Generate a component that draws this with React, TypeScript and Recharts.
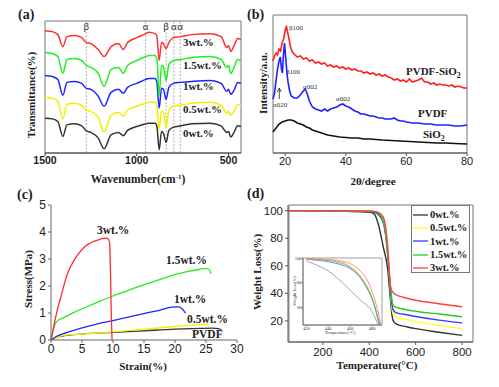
import React from 'react';
import { LineChart, Line, XAxis, YAxis, ReferenceLine, ReferenceArea } from 'recharts';

/* ─── Page + fonts ─────────────────────────────────────────────────────── */

const W = 499;
const H = 387;
const SERIF = '"Liberation Serif", "DejaVu Serif", serif';
const SANS = '"Liberation Sans", Arial, sans-serif';

/* ─── (a) FTIR ─────────────────────────────────────────────────────────── */

const ftirWave = [1500, 1460, 1430, 1403, 1380, 1340, 1300, 1275, 1250, 1210, 1178, 1140, 1100, 1073, 1050, 1000, 950, 935, 900, 890, 878, 865, 855, 840, 825, 800, 760, 700, 600, 540, 510, 500, 488, 470, 450, 432];
const ftir0 = [35, 34.3, 31.7, 16.7, 28.3, 29.3, 27.3, 22.3, 20.7, 15, 4.3, 18.3, 20.7, 17.3, 22.7, 26.7, 29.3, 30, 30, 26.7, 3.3, 21.7, 20, 10.7, 22.7, 26, 27.3, 29.3, 30, 27.3, 20.7, 21.7, 16, 20.7, 27.3, 26.7];
const ftir05 = [56, 55, 52, 34, 49, 50, 48, 43, 42, 36, 21, 38, 41, 37, 43, 47, 50, 51, 51, 47, 24, 42, 41, 26, 43, 47, 48, 50, 51, 48, 40, 42, 38, 42, 49, 48];
const ftir1 = [78, 77, 74, 58, 71, 72, 70, 65, 64, 57, 47, 61, 64, 60, 66, 70, 74, 75, 75, 71, 45, 65, 64, 54, 66, 70, 71, 72, 73, 70, 62, 64, 59, 63, 71, 70];
const ftir15 = [101, 100, 97, 80, 94, 95, 93, 88, 86, 80, 67, 84, 86, 80, 88, 93, 97, 98, 98, 94, 58, 88, 87, 73, 89, 93, 94, 96, 97, 94, 86, 88, 80, 86, 94, 93];
const ftir3 = [123, 122, 119, 107, 117, 118, 116, 111, 110, 104, 97, 107, 110, 104, 111, 116, 120, 121.5, 120, 117, 93, 111, 110, 105, 111, 116, 117, 119, 120, 117, 106, 108, 102, 108, 115, 114];
const ftirBands = [1275, 952, 840, 798, 763];
const ftirBandNames = ['β', 'α', 'β', 'α', 'α'];

const ftirRows = ftirWave.map((w, i) => ({
  w,
  s0: ftir0[i],
  s05: ftir05[i],
  s1: ftir1[i],
  s15: ftir15[i],
  s3: ftir3[i],
}));

/* ─── (b) XRD ──────────────────────────────────────────────────────────── */

const xrdCompX = [16, 16.5, 17, 17.5, 18, 18.5, 19, 19.5, 20, 20.4, 20.8, 21.3, 21.8, 22.4, 23, 24, 25, 26, 27, 28, 29, 30, 31, 32, 33, 34, 35, 36, 37, 38, 39, 40, 41, 42, 43, 44, 45, 46, 47, 48, 49, 50, 51, 52, 53, 54, 55, 56, 57, 58, 59, 60, 61, 62, 63, 64, 65, 66, 67, 68, 69, 70, 71, 72, 73, 74, 75, 76, 77, 78, 79, 80];
const xrdComp = [92, 97, 100, 98, 104, 102, 110, 114, 122, 127, 121, 114, 106, 101, 99, 96, 97, 94, 95, 92, 93, 90, 91, 89, 90, 87, 88, 86, 87, 85, 86, 84, 85, 83, 84, 82, 82, 80, 81, 79, 80, 78, 79, 77, 78, 76, 75, 73, 74, 72, 73, 71, 74, 71, 72, 73, 75, 71, 71, 69, 70, 68, 69, 68, 68, 67, 68, 66, 67, 66, 65, 65];
const xrdPvdfX = [16, 16.5, 17, 17.5, 18, 18.4, 18.8, 19.1, 19.4, 19.8, 20.2, 20.6, 21, 21.5, 22, 23, 24, 25, 26, 26.6, 27.2, 28, 29, 30, 31, 32, 33, 34, 35, 36, 37, 38, 39, 40, 41, 42, 43, 44, 45, 46, 47, 48, 49, 50, 51, 52, 53, 54, 55, 56, 57, 58, 59, 60, 62, 64, 66, 68, 70, 72, 74, 76, 78, 80];
const xrdPvdf = [54, 60, 72, 84, 92, 96, 84, 80, 96, 110, 95, 80, 70, 62, 57, 55, 55, 58, 62, 64, 60, 52, 46, 44, 43, 42, 44, 42, 44, 45, 46, 48, 49, 47, 46, 44, 42, 41, 39, 39, 38, 37, 37, 36, 35, 35, 34, 34, 34, 35, 33, 32, 32, 31, 30, 30, 29, 29, 28, 28, 28, 27, 27, 28];
const xrdSiO2X = [16, 17, 18, 19, 20, 21, 22, 23, 24, 25, 26, 27, 28, 29, 30, 31, 32, 33, 34, 36, 38, 40, 42, 44, 46, 48, 50, 52, 55, 58, 61, 64, 67, 70, 73, 76, 80];
const xrdSiO2 = [21, 25, 29, 31, 32, 33, 33, 32, 30, 29, 28, 26, 25, 23, 22, 21, 20, 19, 18, 17, 16, 15.5, 15, 15, 14, 14, 13.5, 13, 12.5, 12, 11.5, 11, 10.5, 10, 10, 9.5, 9];

/* ─── (c) tensile ──────────────────────────────────────────────────────── */

const ssPvdfX = [0, 1, 2, 5, 10, 15, 20, 24, 26, 27, 27.5];
const ssPvdf = [0, 0.1, 0.15, 0.22, 0.28, 0.34, 0.4, 0.43, 0.44, 0.42, 0.38];
const ss05X = [0, 1, 2, 5, 10, 15, 20, 24, 25, 25.5];
const ss05 = [0, 0.1, 0.17, 0.22, 0.3, 0.4, 0.5, 0.57, 0.58, 0.5];
const ss1X = [0, 1, 2.5, 5, 7.5, 10, 12.5, 15, 17.5, 19.5, 20.5, 21.2, 21.7];
const ss1 = [0, 0.15, 0.27, 0.45, 0.6, 0.72, 0.85, 0.98, 1.1, 1.22, 1.23, 1.15, 0.99];
const ss15X = [0, 0.3, 0.6, 1, 2, 4, 6, 8, 10, 12, 14, 16, 18, 20, 22, 24, 25, 25.5, 25.8];
const ss15 = [0, 0.3, 0.55, 0.7, 0.82, 1.05, 1.25, 1.45, 1.63, 1.8, 1.97, 2.12, 2.27, 2.42, 2.53, 2.62, 2.65, 2.62, 2.45];
const ss3X = [0, 0.3, 0.65, 1, 1.45, 2, 2.5, 3, 3.6, 4.3, 5.2, 6, 6.8, 7.8, 8.5, 8.9, 9.2, 9.45, 9.6, 9.7, 9.85];
const ss3 = [0, 0.35, 0.74, 1.1, 1.48, 1.95, 2.35, 2.65, 2.9, 3.15, 3.4, 3.55, 3.64, 3.72, 3.76, 3.77, 3.75, 3.6, 2.5, 1.2, 0];

/* ─── (d) TGA ──────────────────────────────────────────────────────────── */

const tga0T = [50, 200, 300, 400, 420, 440, 460, 480, 490, 498, 505, 520, 560, 600, 700, 800];
const tga0 = [100, 99.8, 99.5, 99, 97.8, 89.6, 74, 56.8, 38, 24, 19.5, 17.5, 15.8, 14.4, 11.8, 9.5];
const tgaT = [50, 200, 300, 400, 420, 440, 460, 470, 480, 490, 497, 503, 515, 550, 600, 700, 800];
const tga05 = [100, 99.9, 99.8, 99.7, 99.5, 98.6, 93.5, 85, 68, 45, 30, 25, 23, 21.5, 19.5, 16.8, 14.4];
const tga1 = [100, 99.9, 99.7, 99.4, 99, 97, 91.5, 83, 67, 45, 33, 28, 26, 24.8, 23.2, 20.6, 18.6];
const tga15 = [100, 99.9, 99.8, 99.6, 99.3, 98, 92.5, 84, 67.5, 47, 36, 31.5, 30, 28.5, 27, 25, 23];
const tga3 = [100, 99.9, 99.8, 99.7, 99.5, 98.8, 95.5, 89, 73, 47, 42, 40.5, 39, 37, 35, 32.5, 30.2];

const inset0T = [420, 430, 440, 450, 460, 470, 480, 485.5];
const inset0 = [97.8, 94, 89.6, 82.5, 74, 65.5, 56.8, 46];
const inset05T = [420, 430, 440, 450, 460, 470, 480, 484, 486.5];
const inset05 = [99.5, 99.2, 98.6, 97.2, 93.5, 85, 68, 56, 46];
const inset1T = [420, 430, 440, 450, 460, 470, 475, 480, 484, 487];
const inset1 = [99, 98.2, 97, 95, 91.5, 83, 76, 67, 56, 46];
const inset15T = [420, 430, 440, 450, 460, 470, 475, 480, 484, 486.5];
const inset15 = [99.3, 98.8, 98, 96.3, 92.5, 84, 77, 67.5, 55, 46];
const inset3T = [420, 430, 440, 450, 460, 470, 475, 480, 485, 488];
const inset3 = [99.5, 99.3, 98.8, 97.8, 95.5, 89, 83, 73, 58, 46];

const tgaNames = ['0wt.%', '0.5wt.%', '1wt.%', '1.5wt.%', '3wt.%'];
const tgaColors = ['#333333', '#ffff22', '#3838ff', '#22cc22', '#ff4040'];

/* ─── helpers ──────────────────────────────────────────────────────────── */

const zip = (xs: number[], ys: number[]) => xs.map((x, i) => ({ x, y: ys[i] }));

const tickSans = (size: number, bold = false) => ({
  fontSize: size,
  fill: '#222',
  fontFamily: SANS,
  fontWeight: bold ? 'bold' : 'normal',
});

const titleStyle = {
  fontFamily: SERIF,
  fontWeight: 'bold' as const,
  fontSize: 11,
  fill: '#222',
};

const letterStyle = { ...titleStyle, fontSize: 14 };

const layer: React.CSSProperties = { position: 'absolute', left: 0, top: 0 };

/* ─── Panel (a) ────────────────────────────────────────────────────────── */

function PanelA() {
  const colors = ['#333333', '#f2f200', '#2424ff', '#22ee22', '#ff3030'];
  const keys = ['s0', 's05', 's1', 's15', 's3'];
  return (
    <div style={layer}>
      <LineChart width={W} height={H} data={ftirRows} margin={{ top: 21, left: 45, right: 258, bottom: 220 }}>
        <XAxis
          type="number"
          dataKey="w"
          domain={[432, 1500]}
          reversed
          ticks={[1500, 1000, 500]}
          height={14}
          tickSize={3}
          tickMargin={1}
          stroke="#444"
          tick={tickSans(10.5, true)}
        />
        <YAxis hide type="number" domain={[0, 132.7]} />
        <ReferenceArea x1={432} x2={1500} y1={0} y2={132.7} fill="none" stroke="#777" />
        {ftirBands.map((b, i) => (
          <ReferenceLine
            key={b}
            x={b}
            stroke="#9a9a9a"
            strokeWidth={0.8}
            strokeDasharray="2 1.5"
            label={{ value: ftirBandNames[i], position: 'insideTop', offset: 1, fontSize: 11, fill: '#333', fontFamily: SERIF }}
          />
        ))}
        {keys.map((k, i) => (
          <Line key={k} dataKey={k} type="monotone" stroke={colors[i]} strokeWidth={1.5} dot={false} isAnimationActive={false} />
        ))}
        <text x={18} y={19} style={letterStyle}>(a)</text>
        <text x={183} y={46} style={titleStyle}>3wt.%</text>
        <text x={183} y={69} style={titleStyle}>1.5wt.%</text>
        <text x={183} y={90} style={titleStyle}>1wt.%</text>
        <text x={183} y={113} style={titleStyle}>0.5wt.%</text>
        <text x={183} y={137} style={titleStyle}>0wt.%</text>
        <text x={138} y={183} textAnchor="middle" style={{ ...titleStyle, fontSize: 11.5 }}>
          Wavenumber(cm<tspan dy={-4} fontSize={7}>-1</tspan><tspan dy={4}>)</tspan>
        </text>
        <text x={0} y={0} transform="translate(35 95) rotate(-90)" textAnchor="middle" style={titleStyle}>
          Transmittance(%)
        </text>
      </LineChart>
    </div>
  );
}

/* ─── Panel (b) ────────────────────────────────────────────────────────── */

function PanelB() {
  const small = { fontFamily: SERIF, fontSize: 7, fill: '#333' };
  return (
    <div style={layer}>
      <LineChart width={W} height={H} margin={{ top: 15, left: 273, right: 32, bottom: 220 }}>
        <XAxis
          type="number"
          dataKey="x"
          domain={[16, 80]}
          ticks={[20, 40, 60, 80]}
          height={14}
          tickSize={3}
          tickMargin={1}
          stroke="#555"
          tick={tickSans(11)}
        />
        <YAxis hide type="number" domain={[0, 138]} />
        <ReferenceArea x1={16} x2={80} y1={0} y2={138} fill="none" stroke="#777" />
        <Line data={zip(xrdSiO2X, xrdSiO2)} dataKey="y" type="linear" stroke="#111" strokeWidth={1.6} dot={false} isAnimationActive={false} />
        <Line data={zip(xrdPvdfX, xrdPvdf)} dataKey="y" type="linear" stroke="#2020ff" strokeWidth={1.6} dot={false} isAnimationActive={false} />
        <Line data={zip(xrdCompX, xrdComp)} dataKey="y" type="linear" stroke="#ff2020" strokeWidth={1.6} dot={false} isAnimationActive={false} />
        <text x={247} y={19} style={letterStyle}>(b)</text>
        <text x={289} y={30} style={small}>β100</text>
        <text x={286} y={74} style={small}>β100</text>
        <text x={303} y={89} style={small}>α002</text>
        <text x={336} y={101} style={small}>α002</text>
        <text x={273} y={107} style={small}>α020</text>
        <path d="M279.3 99 L279.3 89 M277.3 92 L279.3 88 L281.3 92" stroke="#222" strokeWidth={0.8} fill="none" />
        <text x={406} y={75} style={titleStyle}>
          PVDF-SiO<tspan dy={3} fontSize={8}>2</tspan>
        </text>
        <text x={418} y={117} style={titleStyle}>PVDF</text>
        <text x={423} y={138} style={titleStyle}>
          SiO<tspan dy={3} fontSize={8}>2</tspan>
        </text>
        <text x={373} y={185} textAnchor="middle" style={titleStyle}>2θ/degree</text>
        <text x={0} y={0} transform="translate(267 83) rotate(-90)" textAnchor="middle" style={titleStyle}>
          Intensity/a.u.
        </text>
      </LineChart>
    </div>
  );
}

/* ─── Panel (c) ────────────────────────────────────────────────────────── */

function PanelC() {
  return (
    <div style={layer}>
      <LineChart width={W} height={H} margin={{ top: 205, left: 31, right: 262, bottom: 33 }}>
        <XAxis
          type="number"
          dataKey="x"
          domain={[0, 30]}
          ticks={[0, 5, 10, 15, 20, 25, 30]}
          height={14}
          tickSize={3}
          tickMargin={1}
          stroke="#666"
          tick={tickSans(12)}
        />
        <YAxis
          type="number"
          domain={[0, 5]}
          ticks={[0, 1, 2, 3, 4, 5]}
          width={20}
          tickSize={3}
          tickMargin={2}
          stroke="#666"
          tick={tickSans(12)}
        />
        <Line data={zip(ssPvdfX, ssPvdf)} dataKey="y" type="monotone" stroke="#333" strokeWidth={1.3} dot={false} isAnimationActive={false} />
        <Line data={zip(ss05X, ss05)} dataKey="y" type="monotone" stroke="#f2f200" strokeWidth={1.3} dot={false} isAnimationActive={false} />
        <Line data={zip(ss1X, ss1)} dataKey="y" type="monotone" stroke="#2424ff" strokeWidth={1.3} dot={false} isAnimationActive={false} />
        <Line data={zip(ss15X, ss15)} dataKey="y" type="monotone" stroke="#22ee22" strokeWidth={1.3} dot={false} isAnimationActive={false} />
        <Line data={zip(ss3X, ss3)} dataKey="y" type="monotone" stroke="#ff2c2c" strokeWidth={1.3} dot={false} isAnimationActive={false} />
        <text x={17} y={199} style={letterStyle}>(c)</text>
        <text x={97} y={234} style={{ ...titleStyle, fontSize: 11.5 }}>3wt.%</text>
        <text x={166} y={264} style={{ ...titleStyle, fontSize: 11.5 }}>1.5wt.%</text>
        <text x={174} y={303} style={{ ...titleStyle, fontSize: 11.5 }}>1wt.%</text>
        <text x={187} y={323} style={{ ...titleStyle, fontSize: 11.5 }}>0.5wt.%</text>
        <text x={192} y={338} style={{ ...titleStyle, fontSize: 11.5 }}>PVDF</text>
        <text x={143} y={370} textAnchor="middle" style={titleStyle}>Strain(%)</text>
        <text x={0} y={0} transform="translate(32 279) rotate(-90)" textAnchor="middle" style={titleStyle}>
          Stress(MPa)
        </text>
      </LineChart>
    </div>
  );
}

/* ─── Panel (d) + inset ────────────────────────────────────────────────── */

function PanelD() {
  const main = [zip(tga0T, tga0), zip(tgaT, tga05), zip(tgaT, tga1), zip(tgaT, tga15), zip(tgaT, tga3)];
  return (
    <div style={layer}>
      <LineChart width={W} height={H} margin={{ top: 205, left: 262, right: 26, bottom: 31 }}>
        <XAxis
          type="number"
          dataKey="x"
          domain={[54, 847]}
          ticks={[200, 400, 600, 800]}
          height={14}
          tickSize={3}
          tickMargin={3}
          stroke="#555"
          tick={tickSans(11.5)}
        />
        <YAxis
          type="number"
          domain={[4.7, 104.1]}
          ticks={[20, 40, 60, 80, 100]}
          width={26}
          tickSize={3}
          tickMargin={2}
          stroke="#555"
          tick={tickSans(11.5)}
        />
        <ReferenceArea x1={54} x2={847} y1={4.7} y2={104.1} fill="none" stroke="#777" />
        {main.map((d, i) => (
          <Line key={tgaNames[i]} data={d} dataKey="y" type="monotone" stroke={tgaColors[i]} strokeWidth={1.4} dot={false} isAnimationActive={false} />
        ))}
        <text x={247} y={198} style={letterStyle}>(d)</text>
        <text x={377} y={369} textAnchor="middle" style={titleStyle}>Temperature(°C)</text>
        <text x={0} y={0} transform="translate(261 272) rotate(-90)" textAnchor="middle" style={titleStyle}>
          Weight Loss(%)
        </text>
      </LineChart>
    </div>
  );
}

function Inset() {
  const insetColors = ['#9a9a9a', '#ffd030', '#7070ff', '#44cc44', '#ff8080'];
  const data = [zip(inset0T, inset0), zip(inset05T, inset05), zip(inset1T, inset1), zip(inset15T, inset15), zip(inset3T, inset3)];
  const tiny = { fontSize: 4.5, fill: '#333', fontFamily: SERIF };
  return (
    <div style={layer}>
      <LineChart width={W} height={H} margin={{ top: 258, left: 294, right: 117, bottom: 56 }}>
        <XAxis
          type="number"
          dataKey="x"
          domain={[417, 489]}
          ticks={[420, 440, 460, 480]}
          height={6}
          tickSize={1.5}
          tickMargin={0}
          stroke="#777"
          tick={tiny}
        />
        <YAxis
          type="number"
          domain={[46, 100]}
          ticks={[60, 80, 100]}
          width={9}
          tickSize={1.5}
          tickMargin={0}
          stroke="#777"
          tick={tiny}
        />
        <ReferenceArea x1={417} x2={489} y1={46} y2={100} fill="#fff" fillOpacity={0} stroke="#888" strokeWidth={0.8} />
        {data.map((d, i) => (
          <Line key={i} data={d} dataKey="y" type="monotone" stroke={insetColors[i]} strokeWidth={0.9} dot={false} isAnimationActive={false} />
        ))}
        <text x={340} y={334} textAnchor="middle" style={tiny}>Temperature(°C)</text>
        <text x={0} y={0} transform="translate(296 291) rotate(-90)" textAnchor="middle" style={tiny}>
          Weight Loss(%)
        </text>
      </LineChart>
    </div>
  );
}

function TgaLegend() {
  return (
    <div
      style={{
        position: 'absolute',
        left: 411,
        top: 205,
        width: 59,
        height: 68,
        border: '1px solid #777',
        boxSizing: 'border-box',
        background: '#fff',
        paddingTop: 2,
      }}
    >
      {tgaNames.map((n, i) => (
        <div key={n} style={{ display: 'flex', alignItems: 'center', height: 13.3 }}>
          <svg width={17} height={6} style={{ marginLeft: 1 }}>
            <line x1={0} y1={3} x2={15} y2={3} stroke={tgaColors[i]} strokeWidth={1.3} />
          </svg>
          <span style={{ fontFamily: SERIF, fontWeight: 'bold', fontSize: 10.5, color: '#222', lineHeight: '13px' }}>{n}</span>
        </div>
      ))}
    </div>
  );
}

export default function App() {
  return (
    <div style={{ position: 'fixed', left: 0, top: 0, width: W, height: H, background: '#fff', overflow: 'hidden' }}>
      <PanelA />
      <PanelB />
      <PanelC />
      <PanelD />
      <Inset />
      <TgaLegend />
    </div>
  );
}
